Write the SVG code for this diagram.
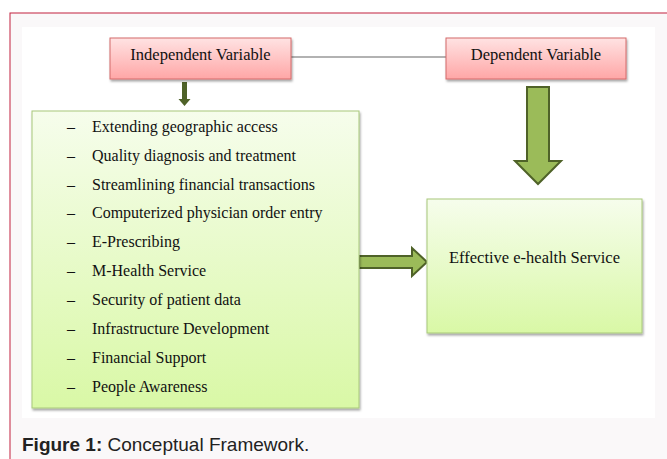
<svg xmlns="http://www.w3.org/2000/svg" width="667" height="459" viewBox="0 0 667 459">
  <defs>
    <linearGradient id="pinkFill" x1="0" y1="0" x2="0" y2="1">
      <stop offset="0" stop-color="#ffe3e3"/>
      <stop offset="1" stop-color="#ffa6a6"/>
    </linearGradient>
    <linearGradient id="greenFill" x1="0" y1="0" x2="0" y2="1">
      <stop offset="0" stop-color="#f6fdec"/>
      <stop offset="1" stop-color="#d9f8a6"/>
    </linearGradient>
    <filter id="shadow" x="-10%" y="-10%" width="120%" height="130%">
      <feDropShadow dx="1" dy="2" stdDeviation="1" flood-color="#000" flood-opacity="0.35"/>
    </filter>
  </defs>
  <style>
    .serif { font-family: "Liberation Serif", "Times New Roman", serif; fill: #111; }
    .head { font-size: 16.5px; text-anchor: middle; }
    .item { font-size: 16px; }
    .pink { fill: url(#pinkFill); stroke: #d46a6a; stroke-width: 1; filter: url(#shadow); }
    .green { fill: url(#greenFill); stroke: #a8c87a; stroke-width: 1; filter: url(#shadow); }
    .bigArrow { fill: #9bbb59; stroke: #4f6228; stroke-width: 2; stroke-linejoin: miter; }
    .caption { font-family: "Liberation Sans", Arial, sans-serif; font-size: 19px; fill: #222; }
  </style>

  <!-- page frame -->
  <rect x="0" y="0" width="667" height="459" fill="#ffffff"/>
  <rect x="10" y="13" width="670" height="460" fill="#faf8f9" stroke="#c2203f" stroke-width="1"/>
  <rect x="22" y="27" width="633" height="391" fill="#ffffff"/>

  <!-- connectors -->
  <g id="connectors">
    <line x1="291" y1="57" x2="446" y2="57" stroke="#666" stroke-width="1.2"/>
    <path d="M182 82 H187 V99 H190.5 L184.5 106 L178.5 99 H182 Z" fill="#4f6228"/>
    <path class="bigArrow" d="M527 87 H549 V161 H561 L538 184 L515 161 H527 Z"/>
    <path class="bigArrow" d="M359 256 H412 V248 L427 262 L412 276 V268 H359 Z"/>
  </g>

  <g id="independent">
    <rect class="pink" x="110" y="38" width="181" height="41"/>
    <text class="serif head" x="200.5" y="60">Independent Variable</text>
  </g>

  <g id="dependent">
    <rect class="pink" x="446" y="38" width="180" height="41"/>
    <text class="serif head" x="536" y="60">Dependent Variable</text>
  </g>

  <g id="factors">
    <rect class="green" x="32" y="111" width="327" height="297"/>
    <g class="serif item">
      <text x="67" y="132">–</text><text x="92" y="132">Extending geographic access</text>
      <text x="67" y="161">–</text><text x="92" y="161">Quality diagnosis and treatment</text>
      <text x="67" y="190">–</text><text x="92" y="190">Streamlining financial transactions</text>
      <text x="67" y="218">–</text><text x="92" y="218">Computerized physician order entry</text>
      <text x="67" y="247">–</text><text x="92" y="247">E-Prescribing</text>
      <text x="67" y="276">–</text><text x="92" y="276">M-Health Service</text>
      <text x="67" y="305">–</text><text x="92" y="305">Security of patient data</text>
      <text x="67" y="334">–</text><text x="92" y="334">Infrastructure Development</text>
      <text x="67" y="363">–</text><text x="92" y="363">Financial Support</text>
      <text x="67" y="392">–</text><text x="92" y="392">People Awareness</text>
    </g>
  </g>

  <g id="outcome">
    <rect class="green" x="427" y="199" width="215" height="134"/>
    <text class="serif head" x="534.5" y="263">Effective e-health Service</text>
  </g>

  <text class="caption" x="22" y="451"><tspan font-weight="bold">Figure 1:</tspan> Conceptual Framework.</text>
</svg>
